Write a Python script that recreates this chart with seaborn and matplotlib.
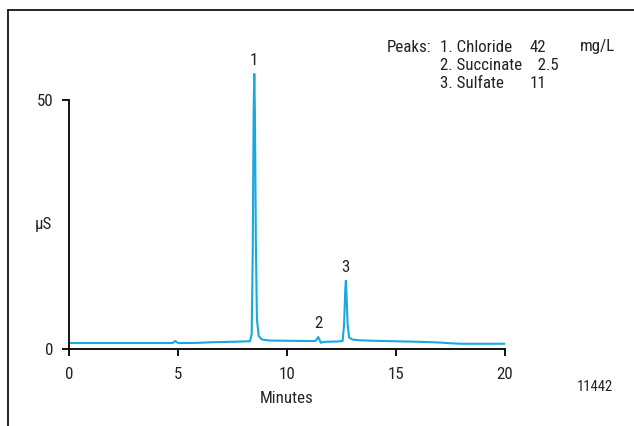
import matplotlib
matplotlib.use("Agg")
import matplotlib.pyplot as plt
from matplotlib.lines import Line2D
from matplotlib import font_manager
import seaborn as sns
import pandas as pd

# --- data ---
time_min = [0, 2, 4, 4.75, 4.88, 5.0, 5.5, 6.0, 6.5, 7.5, 8.3, 8.38, 8.43, 8.47, 8.5,
            8.53, 8.57, 8.62, 8.7, 8.85, 9.2, 10, 11, 11.3, 11.38, 11.43, 11.48, 11.55,
            11.65, 11.8, 12.3, 12.55, 12.62, 12.67, 12.7, 12.73, 12.78, 12.85, 13.0,
            13.3, 14, 15, 16, 17, 17.5, 18, 19, 20]
signal_us = [1.2, 1.2, 1.2, 1.2, 1.6, 1.2, 1.2, 1.25, 1.35, 1.45, 1.55, 3.0, 20.0, 48.0, 55.2,
             47.0, 22.0, 6.0, 2.6, 1.9, 1.7, 1.65, 1.6, 1.6, 2.0, 2.4, 2.0, 1.25,
             1.4, 1.45, 1.5, 1.6, 5.0, 11.5, 13.7, 11.0, 5.0, 2.3, 1.9,
             1.75, 1.65, 1.55, 1.45, 1.3, 1.15, 1.05, 1.05, 1.05]
peak_labels = ["1", "2", "3"]
peak_times = [8.5, 11.43, 12.7]
peak_heights = [55.2, 2.4, 13.7]
legend_names = ["1. Chloride", "2. Succinate", "3. Sulfate"]
legend_conc = ["42", "  2.5", "11"]
x_ticks = [0, 5, 10, 15, 20]
y_ticks = [0, 50]

sns.set_style("ticks")
installed = {f.name for f in font_manager.fontManager.ttflist}
prefs = ["Liberation Sans Narrow", "Roboto Condensed", "DejaVu Sans Condensed",
         "Roboto", "DejaVu Sans"]
chosen = [p for p in prefs if p in installed][0]
plt.rcParams["font.family"] = [chosen, "DejaVu Sans"]
FS = 12.2
plt.rcParams["font.size"] = FS
plt.rcParams["text.color"] = "#222222"

fig = plt.figure(figsize=(6.34, 4.26), dpi=100)
ax = fig.add_axes([69/634, (426-349)/426, (505-69)/634, (349-60)/426])

df = pd.DataFrame({"t": time_min, "s": signal_us})
sns.lineplot(data=df, x="t", y="s", ax=ax, color="#18a8e2", linewidth=1.5,
             estimator=None, sort=False)

ax.set_xlim(0, 20)
ax.set_ylim(0, 58)
ax.set_xticks(x_ticks)
ax.set_yticks(y_ticks)
ax.spines["top"].set_visible(False)
ax.spines["right"].set_visible(False)
ax.spines["left"].set_bounds(0, 50)
ax.spines["bottom"].set_bounds(0, 20)
for sp in ("left", "bottom"):
    ax.spines[sp].set_linewidth(1.3)
    ax.spines[sp].set_color("black")
ax.tick_params(direction="out", length=5.2, width=1.3, colors="black",
               labelcolor="#222222", labelsize=FS)
ax.tick_params(axis="x", pad=8)
ax.tick_params(axis="y", pad=6)
ax.set_xlabel("Minutes", fontsize=FS, labelpad=6)
ax.set_ylabel("")
ax.patch.set_alpha(0)

fig.text(43/634, 1 - 224/426, "µS", ha="center", va="center", fontsize=FS)
fig.text(595/634, 1 - 387/426, "11442", ha="center", va="center", fontsize=10.5)

# peak labels
for lab, pt, ph in zip(peak_labels, peak_times, peak_heights):
    ax.annotate(lab, (pt, ph), xytext=(0, 4), textcoords="offset points",
                ha="center", va="bottom", fontsize=FS)

# peaks legend
fig.text(387/634, 1 - 47/426, "Peaks:", ha="left", va="center", fontsize=FS)
for i, (nm, cc) in enumerate(zip(legend_names, legend_conc)):
    yy = 1 - (47 + i * 18.5) / 426
    fig.text(440/634, yy, nm, ha="left", va="center", fontsize=FS)
    fig.text(530/634, yy, cc, ha="left", va="center", fontsize=FS)
fig.text(580/634, 1 - 47/426, "mg/L", ha="left", va="center", fontsize=FS)

# frame lines (top and left)
fig.add_artist(Line2D([8/634, 1], [1 - 10/426, 1 - 10/426], color="black", lw=1.2,
                      transform=fig.transFigure))
fig.add_artist(Line2D([8/634, 8/634], [0, 1 - 10/426], color="black", lw=1.2,
                      transform=fig.transFigure))

fig.savefig("out.png", dpi=100)
